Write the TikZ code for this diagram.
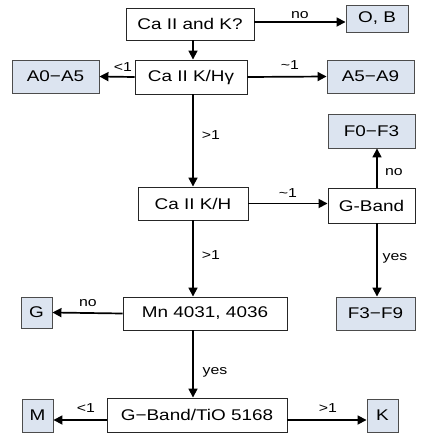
\documentclass[tikz,border=0pt]{standalone}
\usepackage{fontspec}
\setmainfont{Liberation Sans}[FakeStretch=1.22]
\usetikzlibrary{arrows.meta}
\definecolor{boxblue}{HTML}{DCE4F0}
\tikzset{
  qbox/.style={draw=black!85, line width=0.9pt, fill=white, rectangle, inner sep=0pt, font=\fontsize{15.5}{17}\selectfont},
  rbox/.style={draw=black!70, line width=0.9pt, fill=boxblue, rectangle, inner sep=0pt, font=\fontsize{15.5}{17}\selectfont},
  arr/.style={line width=1.7pt, -{Triangle[length=9pt,width=9pt]}},
  lab/.style={font=\fontsize{13}{15}\selectfont, inner sep=0pt}
}
\begin{document}
\begin{tikzpicture}[x=1pt,y=-1pt]
\useasboundingbox (0,0) rectangle (425,440);
% helper coordinates
\coordinate (tx) at (193,0);
\coordinate (gx) at (377,0);
\coordinate (r1) at (0,22);
\coordinate (r3) at (0,203.5);
\coordinate (r5) at (0,420);
% nodes
\node[qbox, minimum width=128pt, minimum height=32pt] (q1) at (190,24) {Ca II and K?};
\node[rbox, minimum width=62pt, minimum height=27pt] (ob) at (377,18.5) {O, B};
\node[qbox, minimum width=112pt, minimum height=34pt] (q2) at (191,77) {Ca II K/Hγ};
\node[rbox, minimum width=87pt, minimum height=33pt] (a05) at (55.5,76.5) {A0−A5};
\node[rbox, minimum width=87pt, minimum height=33pt] (a59) at (370.5,76.5) {A5−A9};
\node[rbox, minimum width=87pt, minimum height=34pt] (f03) at (371.5,131) {F0−F3};
\node[qbox, minimum width=110pt, minimum height=33pt] (q3) at (193,203.5) {Ca II K/H};
\node[qbox, minimum width=87pt, minimum height=35pt] (gb) at (371.5,205.5) {G-Band};
\node[rbox, minimum width=31pt, minimum height=31pt] (g) at (36.5,312.5) {G};
\node[qbox, minimum width=164pt, minimum height=33pt] (q4) at (205,313.5) {Mn 4031, 4036};
\node[rbox, minimum width=79pt, minimum height=33pt] (f39) at (375.5,313.5) {F3−F9};
\node[qbox, minimum width=180pt, minimum height=34pt] (q5) at (197,415) {G−Band/TiO 5168};
\node[rbox, minimum width=31pt, minimum height=33pt] (m) at (37.5,415.5) {M};
\node[rbox, minimum width=31pt, minimum height=33pt] (k) at (382.5,415.5) {K};
% connectors
\draw[arr] (q1.east |- r1) -- (ob.west |- r1);
\draw[arr] (q1.south -| tx) -- (q2.north -| tx);
\draw[arr] (q2.west) -- (a05.east);
\draw[arr] (q2.east) -- (a59.west);
\draw[arr] (q2.south -| tx) -- (q3.north -| tx);
\draw[arr] (q3.east |- r3) -- (gb.west |- r3);
\draw[arr] (gb.north -| gx) -- (f03.south -| gx);
\draw[arr] (gb.south -| gx) -- (f39.north -| gx);
\draw[arr] (q3.south -| tx) -- (q4.north -| tx);
\draw[arr] (q4.west) -- (g.east);
\draw[arr] (q4.south -| tx) -- (q5.north -| tx);
\draw[arr] (q5.west |- r5) -- (m.east |- r5);
\draw[arr] (q5.east |- r5) -- (k.west |- r5);
% labels
\node[lab] (l1) at (300,15) {no};
\node[lab] (l2) at (123,67) {<1};
\node[lab] (l3) at (290,65) {\textasciitilde 1};
\node[lab] (l4) at (211,135) {>1};
\node[lab] (l5) at (288,193) {\textasciitilde 1};
\node[lab] (l6) at (394,172) {no};
\node[lab] (l7) at (211,255) {>1};
\node[lab] (l8) at (395,258) {yes};
\node[lab] (l9) at (88,303) {no};
\node[lab] (l10) at (215,372) {yes};
\node[lab] (l11) at (86,408) {<1};
\node[lab] (l12) at (328,408) {>1};
\end{tikzpicture}
\end{document}
